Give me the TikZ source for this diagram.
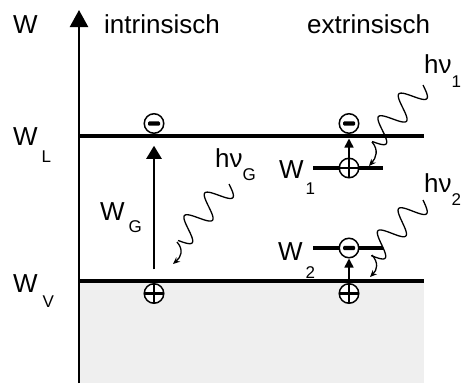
\documentclass[tikz,border=0pt]{standalone}
\usepackage{fontspec}
\setmainfont{Liberation Sans}
\usetikzlibrary{arrows.meta}
\definecolor{band}{HTML}{EFEFEF}
\newcommand{\idx}[3][0pt]{\kern#1\raisebox{-#2}{\fontsize{17}{17}\selectfont #3}}

\begin{document}
\begin{tikzpicture}[x=1pt,y=-1pt,
    txt/.style={anchor=base west,inner sep=0pt,font=\fontsize{26}{30}\selectfont},
    charge/.style={circle,draw,fill=white,line width=1.5pt,minimum size=19.5pt,inner sep=0pt},
    elec/.style={charge,path picture={\fill[black,rounded corners=1.2pt]
      ([xshift=-6pt,yshift=-2.2pt]path picture bounding box.center) rectangle ++(12pt,4.4pt);}},
    hole/.style={charge,path picture={
      \draw[black,line width=2.2pt] ([xshift=-11pt]path picture bounding box.center) -- ++(22pt,0pt);
      \draw[black,line width=2.2pt] ([yshift=-11pt]path picture bounding box.center) -- ++(0pt,22pt);}},
    wavetip/.style={line width=1.3pt,-{Stealth[length=7pt,width=6pt]}}]
  \useasboundingbox (0,0) rectangle (462,383);
  \fill[band] (79,281) rectangle (424,383);

  % energy axis
  \coordinate (o) at (79,383);
  \coordinate (top) at (79,10);
  \draw[line width=2.4pt,-{Triangle[width=18pt,length=17pt]}] (o) -- (top);
  \node[txt] (axW) at (13,33) {W};
  \node[txt] (intr) at (104,33) {intrinsisch};
  \node[txt] (extr) at (307,33) {extrinsisch};

  % bands and levels
  \draw[line width=4pt] (79,136) -- (424,136);
  \draw[line width=4pt] (79,281) -- (424,281);
  \draw[line width=3.3pt] (313,168) -- (383,168);
  \draw[line width=3.3pt] (313,248) -- (383,248);
  \node[txt] (lWL) at (13,145) {W\idx[4pt]{17pt}{L}};
  \node[txt] (lWV) at (13,292) {W\idx[5pt]{15pt}{V}};
  \node[txt] (lWG) at (100,220) {W\idx[4pt]{12pt}{G}};
  \node[txt] (lW1) at (279,178) {W\idx[2pt]{16pt}{1}};
  \node[txt] (lW2) at (278,260) {W\idx[3pt]{18pt}{2}};

  % charges
  \node[elec] (eL) at (154,123.5) {};
  \node[hole] (hV) at (154,293.5) {};
  \node[elec] (e1) at (349,123.5) {};
  \node[hole] (h1) at (349,168) {};
  \node[elec] (e2) at (349,248) {};
  \node[hole] (h2) at (349,293.5) {};

  % transitions
  \draw[line width=2.4pt,-{Triangle[width=15pt,length=13pt]}] ([yshift=13.75pt]hV.north) -- ([yshift=-11.75pt]eL.south);
  \draw[line width=1.6pt,-{Triangle[width=9pt,length=9pt]}] (h1.north) -- ([yshift=-4.5pt]e1.south);
  \draw[line width=1.6pt,-{Triangle[width=9pt,length=9pt]}] (h2.north) -- (e2.south);

  % photons
  \node[txt] (lhG) at (215,167) {hν\idx{13pt}{G}};
  \node[txt] (lh1) at (424,73) {hν\idx{14pt}{1}};
  \node[txt] (lh2) at (424,192) {hν\idx{13pt}{2}};
  \coordinate (gA) at (229,184);
  \coordinate (gB) at (177,242);
  \coordinate (gC) at (173,264);
  \coordinate (pA) at (423,85);
  \coordinate (pB) at (372,142);
  \coordinate (pC) at (369,166);
  \coordinate (qA) at (423,200);
  \coordinate (qB) at (372,255);
  \coordinate (qC) at (370,277);
  \foreach \s/\r in {gA/228,pA/228,qA/227}
    \draw[line width=1.3pt,shift={(\s)},rotate=\r]
      plot[domain=0:76,samples=90,smooth] ({\x*1pt},{12pt*sin(\x*11.842)});
  \draw[wavetip] (gB) .. controls (184,250) and (181,257) .. (gC);
  \draw[wavetip] (pB) .. controls (379,150) and (376,158) .. (pC);
  \draw[wavetip] (qB) .. controls (379,263) and (377,270) .. (qC);
\end{tikzpicture}
\end{document}
